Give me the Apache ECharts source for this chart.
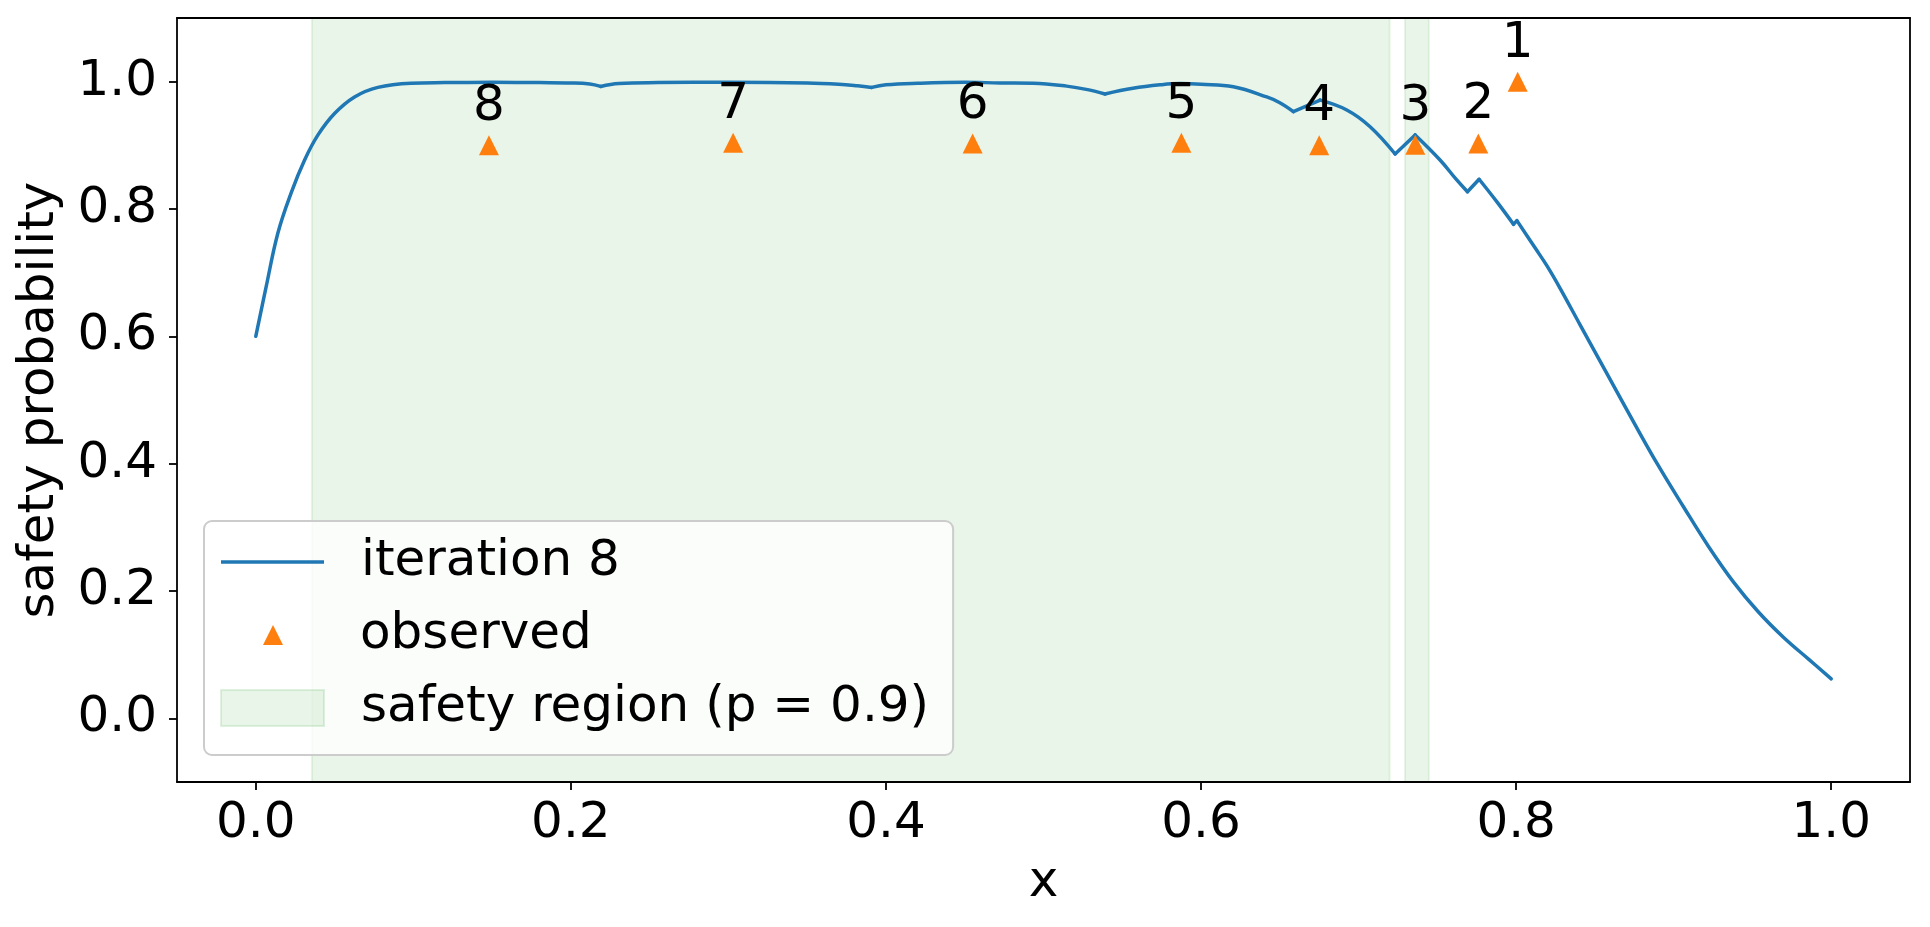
<!DOCTYPE html>
<html>
<head>
<meta charset="utf-8">
<script src="https://cdn.jsdelivr.net/npm/echarts@6/dist/echarts.min.js"></script>
<style>
  html, body { margin: 0; padding: 0; background: #ffffff; }
  #chart { width: 1930px; height: 927px; }
</style>
</head>
<body>
<div id="chart"></div>
<script>
// ---- data ----
const curveX = [0.000, 0.0066, 0.014, 0.0224, 0.031, 0.0394, 0.050, 0.0627, 0.0775, 0.0986,
  0.120, 0.150, 0.180, 0.200, 0.212, 0.2189, 0.2305, 0.255, 0.300, 0.350,
  0.370, 0.382, 0.391, 0.400, 0.420, 0.450, 0.4724, 0.4935, 0.5147, 0.528,
  0.539, 0.5568, 0.574, 0.5867, 0.600, 0.6205, 0.6417, 0.650, 0.6586, 0.6756,
  0.6925, 0.7073, 0.7232, 0.7359, 0.7517, 0.7623, 0.7691, 0.7765, 0.7877, 0.7983,
  0.8005, 0.812, 0.8195, 0.828, 0.8406, 0.8586, 0.8745, 0.890, 0.9063, 0.9221,
  0.938, 0.9538, 0.9698, 0.9856, 1.000];
const curveY = [0.600, 0.678, 0.762, 0.825, 0.877, 0.916, 0.950, 0.976, 0.991, 0.9975,
  0.9985, 0.999, 0.9985, 0.998, 0.9964, 0.9925, 0.997, 0.9985, 0.999, 0.998,
  0.996, 0.9935, 0.991, 0.995, 0.9975, 0.999, 0.998, 0.9975, 0.993, 0.9875,
  0.9807, 0.9896, 0.995, 0.997, 0.996, 0.992, 0.976, 0.967, 0.953, 0.971,
  0.9556, 0.9293, 0.8864, 0.9163, 0.877, 0.8456, 0.8272, 0.8467, 0.8115, 0.776,
  0.7817, 0.739, 0.711, 0.675, 0.618, 0.537, 0.4657, 0.398, 0.332, 0.270,
  0.214, 0.167, 0.127, 0.093, 0.062];
// x positions where the curve has sharp corners (kinks)
const kinkX = [0.2189, 0.391, 0.539, 0.6586, 0.6756, 0.7232, 0.7359, 0.7691, 0.7765, 0.7983, 0.8005];

const obsX = [0.148, 0.303, 0.455, 0.5875, 0.675, 0.736, 0.776, 0.801];
const obsY = [0.900, 0.904, 0.903, 0.904, 0.900, 0.901, 0.903, 1.000];
const obsLabels = ['8', '7', '6', '5', '4', '3', '2', '1'];

const safeStart = [0.0356, 0.7294];
const safeEnd = [0.7197, 0.7446];

const xTicks = [0.0, 0.2, 0.4, 0.6, 0.8, 1.0];
const yTicks = [0.0, 0.2, 0.4, 0.6, 0.8, 1.0];

const lineName = 'iteration 8';
const obsName = 'observed';
const safeName = 'safety region (p = 0.9)';

// ---- chart ----
const FONT = 'DejaVu Sans';
const FS = 50;
const chart = echarts.init(document.getElementById('chart'), null, { renderer: 'canvas' });

// split the curve into smooth pieces between kinks
const pieces = [];
let cur = [];
curveX.forEach((x, i) => {
  cur.push([x, curveY[i]]);
  if (kinkX.indexOf(x) >= 0) { pieces.push(cur); cur = [[x, curveY[i]]]; }
});
if (cur.length > 1) pieces.push(cur);

const obsData = obsX.map((x, i) => [x, obsY[i]]);
const areaData = safeStart.map((s, i) => [{ xAxis: s }, { xAxis: safeEnd[i] }]);

const axisLineStyle = { color: '#000', width: 1.8 };
const txt = { fontFamily: FONT, fontSize: FS, color: '#000' };

const lineSeries = pieces.map(p => ({
  name: lineName, type: 'line', xAxisIndex: 0, yAxisIndex: 0, z: 2,
  data: p, symbol: 'none', smooth: p.length > 2 ? 0.4 : false,
  lineStyle: { color: '#1f77b4', width: 3.5, join: 'round', cap: 'round' },
  itemStyle: { color: '#1f77b4' }
}));

const option = {
  animation: false,
  backgroundColor: '#ffffff',
  grid: { left: 177, right: 20, top: 18, bottom: 145, containLabel: false },
  xAxis: [
    {
      type: 'value', min: -0.05, max: 1.05, position: 'bottom', z: 5,
      axisLine: { show: true, onZero: false, lineStyle: axisLineStyle },
      axisTick: { show: true, length: 8, inside: false, lineStyle: axisLineStyle, customValues: xTicks },
      axisLabel: Object.assign({ customValues: xTicks, margin: 17, formatter: v => Number(v).toFixed(1) }, txt),
      splitLine: { show: false },
      name: 'x', nameLocation: 'middle', nameGap: 76, nameTextStyle: txt
    },
    {
      type: 'value', min: -0.05, max: 1.05, position: 'top', z: 5,
      axisLine: { show: true, onZero: false, lineStyle: axisLineStyle },
      axisTick: { show: false }, axisLabel: { show: false }, splitLine: { show: false }
    }
  ],
  yAxis: [
    {
      type: 'value', min: -0.1, max: 1.1, position: 'left', z: 5,
      axisLine: { show: true, onZero: false, lineStyle: axisLineStyle },
      axisTick: { show: true, length: 8, inside: false, lineStyle: axisLineStyle, customValues: yTicks },
      axisLabel: Object.assign({ customValues: yTicks, margin: 20, formatter: v => Number(v).toFixed(1) }, txt),
      splitLine: { show: false },
      name: 'safety probability', nameLocation: 'middle', nameGap: 112, nameRotate: 90, nameTextStyle: txt
    },
    {
      type: 'value', min: -0.1, max: 1.1, position: 'right', z: 5,
      axisLine: { show: true, onZero: false, lineStyle: axisLineStyle },
      axisTick: { show: false }, axisLabel: { show: false }, splitLine: { show: false }
    }
  ],
  legend: [
    {
      orient: 'vertical', left: 204, top: 521,
      padding: [16, 24, 22, 16],
      itemWidth: 103, itemHeight: 36, itemGap: 96,
      backgroundColor: 'rgba(255,255,255,0.8)', borderColor: '#cccccc', borderWidth: 2, borderRadius: 8,
      textStyle: Object.assign({ padding: [0, 0, 0, 32] }, txt),
      data: [
        { name: lineName, icon: 'path://M0,0L100,0L100,3.3L0,3.3Z', itemStyle: { color: '#1f77b4', borderWidth: 0 } },
        { name: safeName, icon: 'rect', itemStyle: { color: 'rgba(44,160,44,0.10)', borderColor: 'rgba(44,160,44,0.14)', borderWidth: 2 } }
      ]
    },
    {
      orient: 'vertical', left: 263, top: 610,
      padding: 0, itemWidth: 20, itemHeight: 20,
      textStyle: Object.assign({ padding: [0, 0, 0, 72] }, txt),
      data: [{ name: obsName, icon: 'triangle', itemStyle: { color: '#ff7f0e', borderWidth: 0, opacity: 1 } }]
    }
  ],
  series: [
    {
      name: safeName, type: 'line', xAxisIndex: 0, yAxisIndex: 0, z: 1,
      data: [], symbol: 'none',
      itemStyle: { color: 'rgba(44,160,44,0.10)' },
      lineStyle: { width: 0 },
      markArea: {
        silent: true,
        itemStyle: { color: 'rgba(44,160,44,0.10)', borderColor: 'rgba(44,160,44,0.10)', borderWidth: 2 },
        label: { show: false },
        data: areaData
      }
    }
  ].concat(lineSeries).concat([
    {
      name: obsName, type: 'scatter', xAxisIndex: 0, yAxisIndex: 0, z: 3,
      data: obsData, symbol: 'triangle', symbolSize: 20,
      itemStyle: { color: '#ff7f0e', opacity: 1 },
      label: Object.assign({
        show: true, position: 'top', distance: 3, opacity: 1,
        formatter: p => obsLabels[p.dataIndex]
      }, txt)
    }
  ])
};
chart.setOption(option);
</script>
</body>
</html>
